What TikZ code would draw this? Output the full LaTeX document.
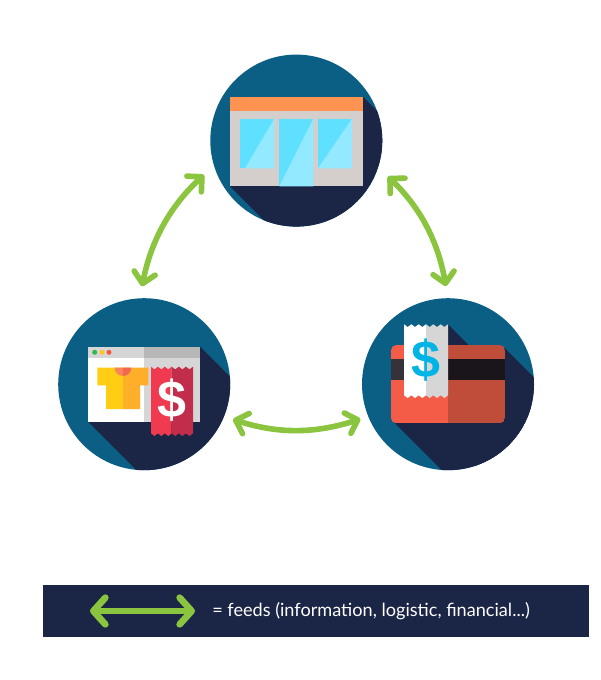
\documentclass[tikz,border=0pt]{standalone}
\usepackage{fontspec}
\usepackage{tikz}
\usetikzlibrary{arrows.meta}
\newfontfamily\captionfont{Lato}
\newfontfamily\signfont{Liberation Sans}
\definecolor{disc}{HTML}{0B5F85}
\definecolor{dusk}{HTML}{1B2546}
\definecolor{feed}{HTML}{8BC53F}
\definecolor{wall}{HTML}{D4CECD}
\definecolor{awning}{HTML}{FF9351}
\definecolor{glass}{HTML}{5FE0FF}
\definecolor{glasslight}{HTML}{93E9FF}
\definecolor{greyA}{HTML}{D6D6D6}
\definecolor{greyB}{HTML}{B7B7B7}
\definecolor{redA}{HTML}{EF3A50}
\definecolor{redB}{HTML}{C12D4B}
\definecolor{cardA}{HTML}{F45C47}
\definecolor{cardB}{HTML}{C04C3A}
\definecolor{stripeA}{HTML}{35323A}
\definecolor{stripeB}{HTML}{1A151B}
\definecolor{dollar}{HTML}{00B4E6}
\definecolor{dotgreen}{HTML}{2DB84B}
\definecolor{dotyellow}{HTML}{FFC61B}
\definecolor{dotred}{HTML}{F4593F}
\definecolor{shirtA}{HTML}{FFCE14}
\definecolor{shirtB}{HTML}{FFAE2A}
\definecolor{collarA}{HTML}{F8845A}
\definecolor{collarB}{HTML}{F0684E}
\tikzset{
  discnode/.style={circle,fill=disc,inner sep=0pt,minimum size=129pt},
  feedline/.style={draw=feed,line width=4.2pt,line cap=round,
    {Straight Barb[round,length=8pt,width=16pt]}-{Straight Barb[round,length=8pt,width=16pt]}},
  signtext/.style={inner sep=0pt,font=\signfont\bfseries\fontsize{39}{39}\selectfont}
}
% receipt strip: x0, x1, top, bottom, colour, teeth
\newcommand{\slipstrip}[6]{
  \pgfmathsetmacro{\dx}{(#2-#1)/#6/2}
  \fill[#5] (#1,#3) \foreach \i in {1,...,#6} {-- ++(\dx,2.7) -- ++(\dx,-2.7)}
    -- (#2,#4) \foreach \i in {1,...,#6} {-- ++(-\dx,2.7) -- ++(-\dx,-2.7)} -- cycle;
}
\begin{document}
\begin{tikzpicture}[x=0.75pt,y=-0.75pt]
\useasboundingbox (0,0) rectangle (600,680);

\node[discnode] (shop) at (296.3,140.6) {};
\node[discnode] (web) at (144.2,384.2) {};
\node[discnode] (card) at (448,384.2) {};

% shop
\begin{scope}
\clip (296.3,140.6) circle (86);
\fill[dusk] (362.7,96.7) -- (482.7,216.7) -- (350,306.3) -- (230,186.3) -- cycle;
\end{scope}
\fill[wall] (230,96.7) rectangle (362.7,186.3);
\fill[awning] (230,96.7) rectangle (362.7,111);
\fill[glass] (240,118.7) rectangle (274.3,168.3);
\fill[glasslight] (274.3,118.7) -- (274.3,168.3) -- (245,168.3) -- cycle;
\fill[glass] (279.3,118.7) rectangle (313.3,186.3);
\fill[glasslight] (313.3,118.7) -- (313.3,186.3) -- (279.3,186.3) -- cycle;
\fill[glass] (318,118.7) rectangle (352,168.3);
\fill[glasslight] (352,118.7) -- (352,168.3) -- (318,168.3) -- cycle;

% online store
\begin{scope}
\clip (144.2,384.2) circle (86);
\fill[dusk] (200,346.7) -- (320,466.7) -- (208.3,542) -- (88.3,422) -- cycle;
\end{scope}
\fill[white] (88.3,346.7) rectangle (144,422);
\fill[greyA] (144,346.7) rectangle (200,422);
\fill[greyA] (88.3,346.7) rectangle (144,358);
\fill[greyB] (144,346.7) rectangle (200,358);
\fill[dotgreen] (94.7,352.3) circle (2.5);
\fill[dotyellow] (102,352.3) circle (2.5);
\fill[dotred] (109,352.3) circle (2.5);
\fill[shirtA] (97.3,367.7) -- (123,367.7) -- (123,409) -- (106,409) -- (106,385.3) -- (97.3,385.3) -- cycle;
\fill[shirtB] (148.3,367.7) -- (123,367.7) -- (123,409) -- (140,409) -- (140,385.3) -- (148.3,385.3) -- cycle;
\fill[collarA] (114.7,367.7) arc[start angle=180,end angle=90,radius=8.3] -- (123,367.7) -- cycle;
\fill[collarB] (131.3,367.7) arc[start angle=0,end angle=90,radius=8.3] -- (123,367.7) -- cycle;
\slipstrip{151}{171.7}{366.7}{433.3}{redA}{3}
\slipstrip{171.7}{193}{366.7}{433.3}{redB}{3}
\node[signtext,text=white] (websign) at (172,400) {\$};

% credit card
\begin{scope}
\clip (448,384.2) circle (86);
\fill[dusk] (505,348.5) -- (625,468.5) -- (515,543.3) -- (395,423.3) -- cycle;
\fill[dusk] (448,324.3) -- (568,444.3) -- (524,515.3) -- (404,395.3) -- cycle;
\end{scope}
\begin{scope}
\clip[rounded corners=4pt] (391,345) rectangle (505,423.3);
\fill[cardA] (391,345) rectangle (448,423.3);
\fill[cardB] (448,345) rectangle (505,423.3);
\fill[stripeA] (391,359) rectangle (448,380.3);
\fill[stripeB] (448,359) rectangle (505,380.3);
\end{scope}
\slipstrip{404}{426}{324.3}{395.3}{white}{3}
\slipstrip{426}{448}{324.3}{395.3}{greyA}{3}
\node[signtext,text=dollar] (cardsign) at (426,360) {\$};

% feeds
\draw[feedline,shorten <=10pt,shorten >=9pt] (shop.197) to[bend right=18] (web.93);
\draw[feedline,shorten <=10pt,shorten >=9pt] (shop.342) to[bend left=18] (card.90);
\draw[feedline,shorten <=7pt,shorten >=6pt] (web.338) to[bend right=18] (card.202);

% legend
\node[fill=dusk,inner sep=0pt,minimum width=409.5pt,minimum height=39pt] (legend) at (316,611) {};
\coordinate (legendL) at (90,611);
\coordinate (legendR) at (195,611);
\draw[draw=feed,line width=5pt,{Straight Barb[round,length=9pt,width=20pt]}-{Straight Barb[round,length=9pt,width=20pt]}] (legendL) -- (legendR);
\node[inner sep=0pt,anchor=west,text=white,font=\captionfont\fontsize{13.6}{16}\selectfont] (caption) at (212,611) {= feeds (information, logistic, financial...)};
\end{tikzpicture}
\end{document}
